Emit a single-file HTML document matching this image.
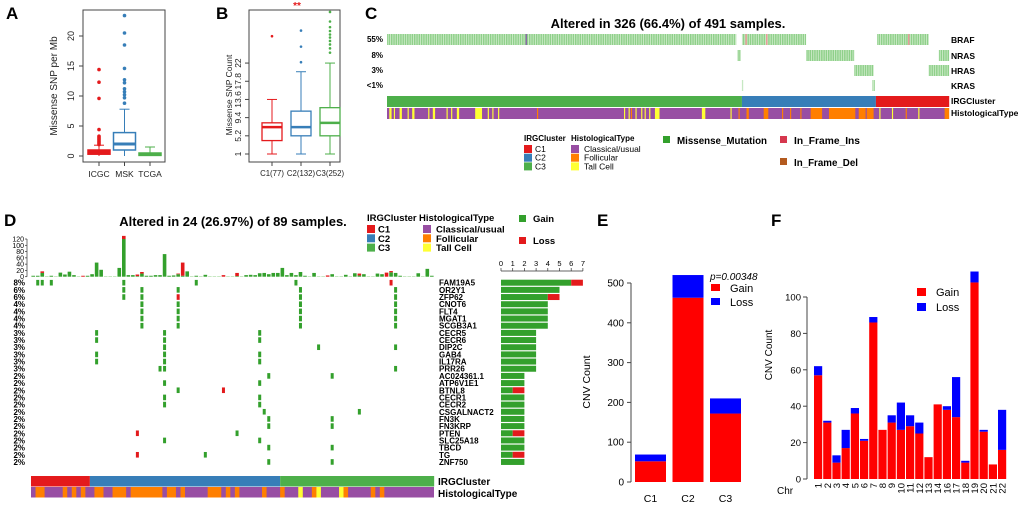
<!DOCTYPE html>
<html><head><meta charset="utf-8"><style>
html,body{margin:0;padding:0;background:#fff}
svg{display:block;font-family:"Liberation Sans",Arial,sans-serif}
</style></head><body>
<svg id="fig" width="1020" height="507" viewBox="0 0 1020 507" xmlns="http://www.w3.org/2000/svg">
<defs>
<pattern id="mut" width="2.3" height="12" patternUnits="userSpaceOnUse"><rect width="2.3" height="12" fill="#d4eed0"/><rect width="1.5" height="12" fill="#8fd08a"/></pattern>
</defs>
<g font-weight="bold" font-size="17">
<text x="6" y="19">A</text>
<text x="216" y="19">B</text>
<text x="365" y="19">C</text>
<text x="4" y="226">D</text>
<text x="597" y="226">E</text>
<text x="771" y="226">F</text>
</g>
</svg>
<script>
// ---------- DATA ----------
// Panel A
const aCats=['ICGC','MSK','TCGA'];
const aQ1=[0.3,1.0,0.1], aMed=[0.6,2.0,0.25], aQ3=[1.0,3.9,0.5], aLo=[0,0,0], aHi=[1.8,7.8,1.5];
const aOut=[[1.9,2.1,2.3,2.5,2.7,2.9,3.1,3.3,4.4,9.6,12.3,14.4],[8.8,9.7,10.2,10.7,11.2,12.2,12.7,14.6,18.5,20.5,23.4],[]];
const aTicks=[0,5,10,15,20];
// Panel B
const bCats=['C1(77)','C2(132)','C3(252)'];
const bQ1=[4.1,5.2,5.2], bMed=[7.2,7.2,8.2], bQ3=[8.2,10.9,11.7], bLo=[1,1,1], bHi=[13.6,20,22];
const bOut=[[28.2],[22.2,25.8,29.5],[24.4,25.4,26.3,27.1,27.9,28.6,29.4,30.3,31.6,33.8]];
const bTicks=[1,5.2,9.4,13.6,17.8,22];
// Panel C (491 samples)
const cGenes=['BRAF','NRAS','HRAS','KRAS'];
const cPct=['55%','8%','3%','<1%'];
const cMut=[[[0,305],[310,366],[428,473]],[[306,309],[366,408]],[[408,425],[473,482]],[[310,311],[424,426]]];
const cMut2=[[],[[482,491]],[[482,491]],[]];
const cIns=[121,313,331,455];
const cCluster=[[0,310,'C3'],[310,427,'C2'],[427,491,'C1']];
const cHisto=[[2,2,'T'],[6,1,'T'],[11,2,'T'],[18,1,'T'],[22,2,'T'],[36,1,'T'],[40,2,'T'],[52,1,'T'],[56,1,'T'],[61,2,'T'],[77,6,'T'],[88,1,'T'],[92,1,'T'],[97,1,'T'],[131,1,'F'],[207,1,'T'],[211,1,'T'],[213,1,'F'],[217,1,'T'],[222,1,'T'],[225,1,'T'],[229,1,'T'],[234,4,'T'],[275,3,'T'],[300,1,'T'],[307,1,'F'],[314,2,'F'],[329,4,'F'],[345,1,'F'],[352,1,'F'],[361,1,'F'],[370,10,'F'],[386,23,'F'],[412,6,'F'],[419,6,'F'],[430,1,'T'],[441,1,'T'],[453,1,'F'],[464,1,'T'],[487,4,'F']];
// Panel D (89 samples)
const dGenes=['FAM19A5','OR2Y1','ZFP62','CNOT6','FLT4','MGAT1','SCGB3A1','CECR5','CECR6','DIP2C','GAB4','IL17RA','PRR26','AC024361.1','ATP6V1E1','BTNL8','CECR1','CECR2','CSGALNACT2','FN3K','FN3KRP','PTEN','SLC25A18','TBCD','TG','ZNF750'];
const dPct=['8%','6%','6%','4%','4%','4%','4%','3%','3%','3%','3%','3%','3%','2%','2%','2%','2%','2%','2%','2%','2%','2%','2%','2%','2%','2%'];
const dGainSamples=[[1,2,4,20,36,58],[20,24,32,59,80],[20,24,59,80],[24,32,59,80],[24,32,59,80],[24,32,59,80],[24,32,59,80],[14,29,50],[14,29,50],[29,63,80],[14,29,50],[14,29,50],[28,29,80],[52,66],[29,50],[32],[29,50],[29,50],[51,72],[52,66],[52,66],[45],[29,50],[52,66],[38],[52,66]];
const dLossSamples=[[79],[],[32],[],[],[],[],[],[],[],[],[],[],[],[],[42],[],[],[],[],[],[23],[],[],[23],[]];
const dGainCount=[6,5,4,4,4,4,4,3,3,3,3,3,3,2,2,1,2,2,2,2,2,1,2,2,1,2];
const dLossCount=[1,0,1,0,0,0,0,0,0,0,0,0,0,0,0,1,0,0,0,0,0,1,0,0,1,0];
const dTopGain=[3,3,12,2,3,2,13,7,16,5,2,0,3,8,45,22,2,2,2,28,120,5,5,2,10,3,3,5,5,72,3,4,8,3,17,2,3,2,6,2,2,2,0,2,2,2,2,5,6,5,11,12,8,12,12,28,5,12,5,15,3,2,12,2,2,0,8,2,2,6,2,11,4,8,2,2,10,8,0,14,12,3,2,2,2,11,2,25,3];
const dTopLoss=[0,0,5,0,0,0,0,0,0,0,0,3,0,0,0,0,0,0,0,0,10,0,0,5,5,0,0,0,0,0,0,0,2,42,0,0,0,0,0,0,0,0,5,0,0,10,0,0,0,0,0,0,0,0,0,0,0,0,0,0,0,0,0,0,0,4,0,0,0,0,0,0,6,0,0,0,0,0,13,4,0,0,0,0,0,0,0,0,0];
const dCluster=[[0,13,'C1'],[13,55,'C2'],[55,89,'C3']];
const dHisto=[[1,2,'F'],[7,1,'F'],[9,1,'F'],[11,1,'F'],[14,2,'F'],[18,3,'F'],[22,7,'F'],[30,2,'F'],[33,1,'F'],[39,3,'F'],[43,1,'F'],[45,1,'F'],[51,1,'F'],[55,1,'F'],[59,1,'T'],[62,1,'F'],[63,1,'T'],[68,1,'T'],[69,1,'F'],[75,1,'F'],[77,1,'F']];
const dTopTicks=[0,20,40,60,80,100,120];
const dBarTicks=[0,1,2,3,4,5,6,7];
// Panel E
const eCats=['C1','C2','C3'];
const eGain=[52,463,172];
const eLoss=[17,57,38];
const eTicks=[0,100,200,300,400,500];
// Panel F
const fCats=['1','2','3','4','5','6','7','8','9','10','11','12','13','14','16','17','18','19','20','21','22'];
const fGain=[57,31,9,17,36,21,86,27,31,27,29,25,12,41,38,34,9,108,26,8,16];
const fLoss=[5,1,4,10,3,1,3,0,4,15,6,6,0,0,2,22,1,6,1,0,22];
const fTicks=[0,20,40,60,80,100];

// ---------- HELPERS ----------
const NS='http://www.w3.org/2000/svg';
const svg=document.getElementById('fig');
function mk(tag,attrs,parent){const e=document.createElementNS(NS,tag);for(const k in attrs)e.setAttribute(k,attrs[k]);(parent||svg).appendChild(e);return e;}
function txt(s,attrs,parent){const e=mk('text',attrs,parent);e.textContent=s;return e;}
const COL={C1:'#E41A1C',C2:'#377EB8',C3:'#4DAF4A',P:'#984EA3',F:'#FF7F00',T:'#FFFF33'};
const OG='#33A02C', OR='#E31A1C';

// ---------- PANEL A ----------
const gA=mk('g',{});


const yA=v=>156-6*v;
const fr=mk('rect',{x:83,y:10,width:82,height:152,fill:'none',stroke:'#444','stroke-width':1},gA);


aTicks.forEach(t=>{
  mk('line',{x1:79,x2:83,y1:yA(t),y2:yA(t),stroke:'#444'},gA);
  const l=txt(String(t),{x:74,y:yA(t),'font-size':9,'text-anchor':'middle',transform:`rotate(-90 74 ${yA(t)})`,fill:'#222'},gA);
  
  
});
const aT=txt('Missense SNP per Mb',{x:57,y:86,'font-size':10,'text-anchor':'middle',transform:'rotate(-90 57 86)',fill:'#222'},gA);


const aColors=['#E41A1C','#377EB8','#4DAF4A'];
aCats.forEach((c,i)=>{
  const cx=99+25.5*i, w=22, col=aColors[i];
  const g=mk('g',{},gA);
  
  
  mk('line',{x1:cx,x2:cx,y1:yA(aHi[i]),y2:yA(aQ3[i]),stroke:col},g);
  mk('line',{x1:cx,x2:cx,y1:yA(aLo[i]),y2:yA(aQ1[i]),stroke:col},g);
  mk('line',{x1:cx-5,x2:cx+5,y1:yA(aHi[i]),y2:yA(aHi[i]),stroke:col},g);
  mk('rect',{x:cx-w/2,y:yA(aQ3[i]),width:w,height:Math.max(yA(aQ1[i])-yA(aQ3[i]),2),fill:i==1?'#fff':col,stroke:col,'stroke-width':1.5},g);
  mk('line',{x1:cx-w/2,x2:cx+w/2,y1:yA(aMed[i]),y2:yA(aMed[i]),stroke:col,'stroke-width':3},g);
  aOut[i].forEach(v=>mk('circle',{cx:cx,cy:yA(v),r:1.8,fill:col},g));
  mk('line',{x1:cx,x2:cx,y1:162,y2:166,stroke:'#444'},gA);
  const l=txt(c,{x:cx,y:177,'font-size':8.5,'text-anchor':'middle',fill:'#222'},gA);
  
  
});

// ---------- PANEL B ----------
const gB=mk('g',{});


const yB=v=>154-4.33*(v-1);
mk('rect',{x:249,y:10,width:91,height:152,fill:'none',stroke:'#444'},gB);
bTicks.forEach(t=>{
  mk('line',{x1:245,x2:249,y1:yB(t),y2:yB(t),stroke:'#444'},gB);
  const l=txt(String(t),{x:241,y:yB(t),'font-size':8.5,'text-anchor':'middle',transform:`rotate(-90 241 ${yB(t)})`,fill:'#222'},gB);
  
  
});
const bT=txt('Missense SNP Count',{x:232,y:95,'font-size':8.5,'text-anchor':'middle',transform:'rotate(-90 232 95)',fill:'#222'},gB);


const bSig=txt('**',{x:297,y:9,'font-size':10,'text-anchor':'middle',fill:'#E41A1C','font-weight':'bold'},gB);


bCats.forEach((c,i)=>{
  const cx=272+29*i, w=20, col=aColors[i];
  const g=mk('g',{},gB);
  
  
  mk('line',{x1:cx,x2:cx,y1:yB(bHi[i]),y2:yB(bQ3[i]),stroke:col},g);
  mk('line',{x1:cx,x2:cx,y1:yB(bLo[i]),y2:yB(bQ1[i]),stroke:col},g);
  mk('line',{x1:cx-5,x2:cx+5,y1:yB(bHi[i]),y2:yB(bHi[i]),stroke:col},g);
  mk('line',{x1:cx-5,x2:cx+5,y1:yB(bLo[i]),y2:yB(bLo[i]),stroke:col},g);
  mk('rect',{x:cx-w/2,y:yB(bQ3[i]),width:w,height:yB(bQ1[i])-yB(bQ3[i]),fill:'#fff',stroke:col,'stroke-width':1.3},g);
  mk('line',{x1:cx-w/2,x2:cx+w/2,y1:yB(bMed[i]),y2:yB(bMed[i]),stroke:col,'stroke-width':2.5},g);
  bOut[i].forEach(v=>mk('circle',{cx:cx,cy:yB(v),r:1.3,fill:col},g));
  mk('line',{x1:cx,x2:cx,y1:162,y2:166,stroke:'#444'},gB);
  const l=txt(c,{x:cx,y:176,'font-size':7.8,'text-anchor':'middle',fill:'#222'},gB);
  
  
});

// ---------- PANEL C ----------
const gC=mk('g',{});


const xC=s=>387+s*1.145;
const cT=txt('Altered in 326 (66.4%) of 491 samples.',{x:668,y:28,'font-size':13,'font-weight':'bold','text-anchor':'middle'},gC);


const cRowY=[34,50,65,80];
cGenes.forEach((g,i)=>{
  const row=mk('g',{},gC);
  
  
  cMut[i].concat(cMut2[i]).forEach(r=>mk('rect',{x:xC(r[0]),y:cRowY[i],width:xC(r[1])-xC(r[0]),height:11,fill:'url(#mut)'},row));
  const l=txt(g,{x:951,y:cRowY[i]+9,'font-size':8.5,'font-weight':'bold'},gC);
  
  
  const p=txt(cPct[i],{x:383,y:cRowY[i]+8,'font-size':8,'font-weight':'bold','text-anchor':'end'},gC);
  
  
});
cIns.forEach((s,k)=>{const m=mk('rect',{x:xC(s),y:34,width:1.5,height:11,fill:k===0?'#8a6aa8':'#e99a9a'},gC);
  
  });
cCluster.forEach(r=>{const e=mk('rect',{x:xC(r[0]),y:96,width:xC(r[1])-xC(r[0]),height:11,fill:COL[r[2]]},gC);
  
  });
mk('rect',{x:387,y:108,width:562,height:11,fill:COL.P},gC);
cHisto.forEach(r=>mk('rect',{x:xC(r[0]),y:108,width:r[1]*1.145,height:11,fill:COL[r[2]]},gC));
[['IRGCluster',104],['HistologicalType',116]].forEach(a=>{const l=txt(a[0],{x:951,y:a[1],'font-size':8.5,'font-weight':'bold'},gC);
  
  });
// legend C
const lgC=mk('g',{'font-size':8.5},gC);


txt('IRGCluster',{x:524,y:141,'font-weight':'bold','font-size':8},lgC);
txt('HistologicalType',{x:571,y:141,'font-weight':'bold','font-size':8},lgC);
[['C1',COL.C1],['C2',COL.C2],['C3',COL.C3]].forEach((a,i)=>{mk('rect',{x:524,y:145+8.7*i,width:8,height:8,fill:a[1]},lgC);txt(a[0],{x:535,y:152+8.7*i},lgC);});
[['Classical/usual',COL.P],['Follicular',COL.F],['Tall Cell',COL.T]].forEach((a,i)=>{mk('rect',{x:571,y:145+8.7*i,width:8,height:8,fill:a[1]},lgC);txt(a[0],{x:584,y:152+8.7*i},lgC);});
mk('rect',{x:663,y:136,width:7,height:7,fill:OG},lgC);
txt('Missense_Mutation',{x:677,y:144,'font-size':10.5,'font-weight':'bold',textLength:90,lengthAdjust:'spacingAndGlyphs'},lgC);
mk('rect',{x:780,y:136,width:7,height:7,fill:'#D6374E'},lgC);
txt('In_Frame_Ins',{x:794,y:144,'font-size':10.5,'font-weight':'bold',textLength:66,lengthAdjust:'spacingAndGlyphs'},lgC);
mk('rect',{x:780,y:158,width:7,height:7,fill:'#B35A1F'},lgC);
txt('In_Frame_Del',{x:794,y:166,'font-size':10.5,'font-weight':'bold',textLength:64,lengthAdjust:'spacingAndGlyphs'},lgC);

// ---------- PANEL D ----------
const gD=mk('g',{});


const xD=s=>31+s*4.53;
const yRow=i=>282.7+i*7.17;
const yTop=v=>276.7-0.314*v;
const dT=txt('Altered in 24 (26.97%) of 89 samples.',{x:233,y:226,'font-size':13,'font-weight':'bold','text-anchor':'middle'},gD);


mk('line',{x1:27,x2:27,y1:yTop(120),y2:yTop(0),stroke:'#333','stroke-width':0.7},gD);
dTopTicks.forEach(t=>{mk('line',{x1:25,x2:27,y1:yTop(t),y2:yTop(t),stroke:'#333','stroke-width':0.7},gD);
  const l=txt(String(t),{x:24,y:yTop(t)+2.5,'font-size':7,'text-anchor':'end'},gD);
  
  });
dTopGain.forEach((g,s)=>{
  const x=xD(s)+0.4, w=3.6;
  const light=(g+dTopLoss[s])<=2;
  const b=mk('rect',{x:x,y:yTop(g),width:w,height:yTop(0)-yTop(g),fill:light?'#a8dba0':OG},gD);
  
  
  if(g+dTopLoss[s]===0){mk('rect',{x:x,y:yTop(2),width:w,height:yTop(0)-yTop(2),fill:'#f4b6b6'},gD);}
  if(dTopLoss[s]>0){const r=mk('rect',{x:x,y:yTop(g+dTopLoss[s]),width:w,height:yTop(g)-yTop(g+dTopLoss[s]),fill:OR},gD);
    
    }
});
dGenes.forEach((g,i)=>{
  const y=yRow(i);
  dGainSamples[i].forEach(s=>{const c=mk('rect',{x:xD(s)+0.7,y:y-2.8,width:3,height:5.6,fill:OG},gD);
    
    });
  dLossSamples[i].forEach(s=>{const c=mk('rect',{x:xD(s)+0.7,y:y-2.8,width:3,height:5.6,fill:OR},gD);
    
    });
  const l=txt(g,{x:439,y:y+3,'font-size':8,'font-weight':'bold'},gD);
  
  
  const p=txt(dPct[i],{x:25,y:y+3,'font-size':8,'font-weight':'bold','text-anchor':'end'},gD);
  
  
  const xB=v=>501+11.7*v;
  const bg=mk('rect',{x:501,y:y-3,width:xB(dGainCount[i])-501,height:6,fill:OG},gD);
  
  
  if(dLossCount[i]>0){const bl=mk('rect',{x:xB(dGainCount[i]),y:y-3,width:xB(dGainCount[i]+dLossCount[i])-xB(dGainCount[i]),height:6,fill:OR},gD);
    
    }
});
mk('line',{x1:501,x2:501+11.7*7,y1:271,y2:271,stroke:'#333','stroke-width':0.7},gD);
dBarTicks.forEach(t=>{mk('line',{x1:501+11.7*t,x2:501+11.7*t,y1:268,y2:271,stroke:'#333','stroke-width':0.7},gD);
  const l=txt(String(t),{x:501+11.7*t,y:266,'font-size':7.5,'text-anchor':'middle'},gD);
  
  });
dCluster.forEach(r=>{const e=mk('rect',{x:xD(r[0]),y:476,width:xD(r[1])-xD(r[0]),height:10.5,fill:COL[r[2]]},gD);
  
  });
mk('rect',{x:31,y:487,width:403,height:10.5,fill:COL.P},gD);
dHisto.forEach(r=>mk('rect',{x:xD(r[0]),y:487,width:r[1]*4.53,height:10.5,fill:COL[r[2]]},gD));
[['IRGCluster',485],['HistologicalType',497]].forEach(a=>{const l=txt(a[0],{x:438,y:a[1],'font-size':10,'font-weight':'bold'},gD);
  
  });
const lgD=mk('g',{'font-size':9.5,'font-weight':'bold'},gD);


txt('IRGCluster',{x:367,y:221},lgD);
txt('HistologicalType',{x:419,y:221},lgD);
[['C1',COL.C1],['C2',COL.C2],['C3',COL.C3]].forEach((a,i)=>{mk('rect',{x:367,y:225+9.3*i,width:8,height:8,fill:a[1]},lgD);txt(a[0],{x:378,y:232.5+9.3*i},lgD);});
[['Classical/usual',COL.P],['Follicular',COL.F],['Tall Cell',COL.T]].forEach((a,i)=>{mk('rect',{x:423,y:225+9.3*i,width:8,height:8,fill:a[1]},lgD);txt(a[0],{x:436,y:232.5+9.3*i},lgD);});
mk('rect',{x:519,y:215,width:7,height:7,fill:OG},lgD);
txt('Gain',{x:533,y:222},lgD);
mk('rect',{x:519,y:237,width:7,height:7,fill:OR},lgD);
txt('Loss',{x:533,y:244},lgD);

// ---------- PANEL E ----------
const gE=mk('g',{});


const yE=v=>482-0.398*v;
mk('line',{x1:631,x2:631,y1:yE(0),y2:yE(500),stroke:'#444'},gE);
eTicks.forEach(t=>{mk('line',{x1:627,x2:631,y1:yE(t),y2:yE(t),stroke:'#444'},gE);
  const l=txt(String(t),{x:624,y:yE(t)+3.5,'font-size':10,'text-anchor':'end'},gE);
  
  });
const eT=txt('CNV Count',{x:590,y:382,'font-size':10.5,'text-anchor':'middle',transform:'rotate(-90 590 382)'},gE);


eCats.forEach((c,i)=>{
  const x=635+37.5*i, w=31;
  const g=mk('rect',{x:x,y:yE(eGain[i]),width:w,height:yE(0)-yE(eGain[i]),fill:'#FF0000'},gE);
  
  
  const l=mk('rect',{x:x,y:yE(eGain[i]+eLoss[i]),width:w,height:yE(eGain[i])-yE(eGain[i]+eLoss[i]),fill:'#0000FF'},gE);
  
  
  const t=txt(c,{x:x+w/2,y:502,'font-size':10.5,'text-anchor':'middle'},gE);
  
  
});
const lgE=mk('g',{'font-size':11},gE);


txt('p=0.00348',{x:710,y:280,'font-style':'italic','font-size':10},lgE);
mk('rect',{x:711,y:284,width:9,height:7,fill:'#FF0000'},lgE);
txt('Gain',{x:730,y:292},lgE);
mk('rect',{x:711,y:298,width:9,height:7,fill:'#0000FF'},lgE);
txt('Loss',{x:730,y:306},lgE);

// ---------- PANEL F ----------
const gF=mk('g',{});


const yF=v=>479-1.82*v;
mk('line',{x1:807,x2:807,y1:yF(0),y2:yF(100),stroke:'#444'},gF);
fTicks.forEach(t=>{mk('line',{x1:803,x2:807,y1:yF(t),y2:yF(t),stroke:'#444'},gF);
  const l=txt(String(t),{x:801,y:yF(t)+3.5,'font-size':9.5,'text-anchor':'end'},gF);
  
  });
const fT=txt('CNV Count',{x:772,y:355,'font-size':10,'text-anchor':'middle',transform:'rotate(-90 772 355)'},gF);


fCats.forEach((c,i)=>{
  const x=814+9.2*i, w=8.2;
  const g=mk('rect',{x:x,y:yF(fGain[i]),width:w,height:yF(0)-yF(fGain[i]),fill:'#FF0000'},gF);
  
  
  if(fLoss[i]>0){const l=mk('rect',{x:x,y:yF(fGain[i]+fLoss[i]),width:w,height:yF(fGain[i])-yF(fGain[i]+fLoss[i]),fill:'#0000FF'},gF);
    
    }
  const t=txt(c,{x:x+w/2+3.5,y:483,'font-size':9.5,'text-anchor':'end',transform:`rotate(-90 ${x+w/2+3.5} 483)`},gF);
  
  
});
const chr=txt('Chr',{x:777,y:494,'font-size':10},gF);


const lgF=mk('g',{'font-size':11},gF);


mk('rect',{x:917,y:288,width:9,height:8,fill:'#FF0000'},lgF);
txt('Gain',{x:936,y:296},lgF);
mk('rect',{x:917,y:303,width:9,height:8,fill:'#0000FF'},lgF);
txt('Loss',{x:936,y:311},lgF);
</script>
</body></html>
